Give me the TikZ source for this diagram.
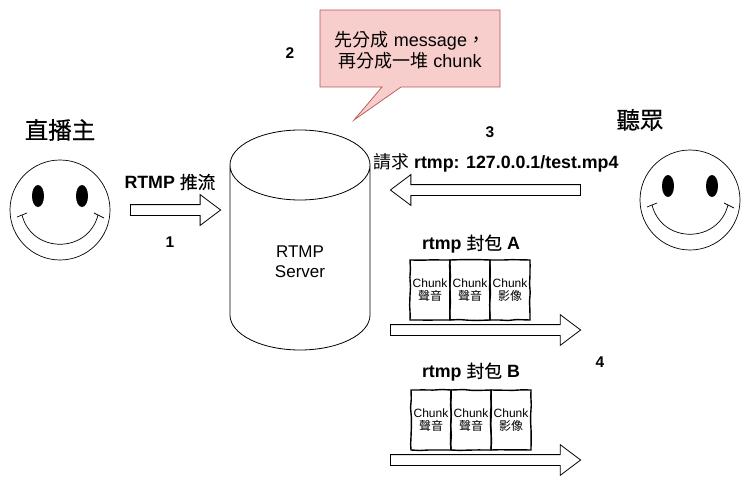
\documentclass[tikz,border=0pt]{standalone}
\usepackage{fontspec}
\setmainfont{Liberation Sans}
\newfontfamily\cjk{Noto Sans CJK TC}
\newfontfamily\cjkheavy[FakeBold=0.5]{Noto Sans CJK TC}
\usetikzlibrary{shapes.arrows, decorations.pathmorphing, positioning, calc}
\definecolor{bubblefill}{HTML}{F8CECC}
\definecolor{bubbleline}{HTML}{B85450}
\tikzset{
    blockarrow/.style={draw=black, fill=white, line width=0.8pt, single arrow, single arrow head extend=10pt,
        single arrow tip angle=74, text height=10pt, text depth=0pt, inner sep=0pt, anchor=center},
    steplabel/.style={font=\bfseries\fontsize{15.5}{17}\selectfont},
    titlelabel/.style={font=\cjkheavy\fontsize{23.5}{26}\selectfont},
    boldlabel/.style={font=\bfseries\fontsize{17.8}{20}\selectfont},
    chunkbox/.style={draw=black, line width=1.4pt, minimum width=40pt, minimum height=60pt,
        inner sep=0pt, outer sep=0pt, align=center, font=\fontsize{12}{13}\selectfont,
        decorate, decoration={random steps, segment length=9pt, amplitude=0.5pt}},
    pics/smiley/.style={code={
        \draw[line width=0.7pt] (0,0) circle (50);
        \fill (-22,-14) ellipse (6 and 11);
        \fill (22,-14) ellipse (6 and 11);
        \draw[line width=0.7pt] (-38,5) .. controls (-28,44) and (28,44) .. (38,5);
        \draw[line width=0.7pt] (-43,7) -- (-33,3);
        \draw[line width=0.7pt] (34,3) -- (44,8);
    }}
}
\newcommand{\chunktext}[1]{Chunk\\{\cjk #1}}
\begin{document}
\begin{tikzpicture}[x=1pt, y=-1pt]
    \useasboundingbox (0,0) rectangle (751,481);

    % --- Speech bubble ---
    \draw[draw=bubbleline, fill=bubblefill, line width=0.7pt] (320,10) -- (500,10) -- (500,87)
        -- (401,87) -- (354,120) -- (382,87) -- (320,87) -- cycle;
    \node[align=center, font=\fontsize{18}{21}\selectfont] (bubbletext) at (410,50)
        {{\cjk 先分成} message{\cjk ，}\\{\cjk 再分成一堆} chunk};
    \node[steplabel] (two) at (290,53) {2};

    % --- Broadcaster ---
    \node[titlelabel] (host) at (60,130) {直播主};
    \pic at (60,210) {smiley};
    \node[boldlabel] (pushlabel) at (170,182) {RTMP {\cjkheavy\mdseries 推流}};
    \node[blockarrow, minimum height=90pt] (push) at (172,210) {};
    \node[steplabel] (one) at (170,242) {1};

    % --- Server ---
    \draw[line width=0.8pt, fill=white] (230,165) arc[start angle=180, end angle=0, x radius=70, y radius=35]
        -- (370,315) arc[start angle=0, end angle=180, x radius=70, y radius=35] -- cycle;
    \draw[line width=0.8pt] (230,165) arc[start angle=180, end angle=360, x radius=70, y radius=35];
    \node[align=center, font=\fontsize{17}{20}\selectfont] (server) at (300,262) {RTMP\\Server};

    % --- Viewer ---
    \node[titlelabel] (viewer) at (640,120) {聽眾};
    \pic at (690,200) {smiley};
    \node[steplabel] (three) at (490,132) {3};
    \node[boldlabel, anchor=west] (request) at (370,163)
        {{\cjk\mdseries 請求} rtmp: 127.0.0.1/test.mp4};
    \node[blockarrow, minimum height=190pt, shape border rotate=180] (ask) at (489,190) {};

    % --- Package A ---
    \node[boldlabel] (packa) at (471,244) {rtmp {\cjkheavy\mdseries 封包} A};
    \node[chunkbox] (a1) at (430,290) {\chunktext{聲音}};
    \node[chunkbox, right=0pt of a1] (a2) {\chunktext{聲音}};
    \node[chunkbox, right=0pt of a2] (a3) {\chunktext{影像}};
    \node[blockarrow, minimum height=190pt] (senda) at (482,330) {};
    \node[steplabel] (four) at (600,362) {4};

    % --- Package B ---
    \node[boldlabel] (packb) at (471,372) {rtmp {\cjkheavy\mdseries 封包} B};
    \node[chunkbox] (b1) at (431,420) {\chunktext{聲音}};
    \node[chunkbox, right=0pt of b1] (b2) {\chunktext{聲音}};
    \node[chunkbox, right=0pt of b2] (b3) {\chunktext{影像}};
    \node[blockarrow, minimum height=190pt] (sendb) at (482,460) {};

\end{tikzpicture}
\end{document}
